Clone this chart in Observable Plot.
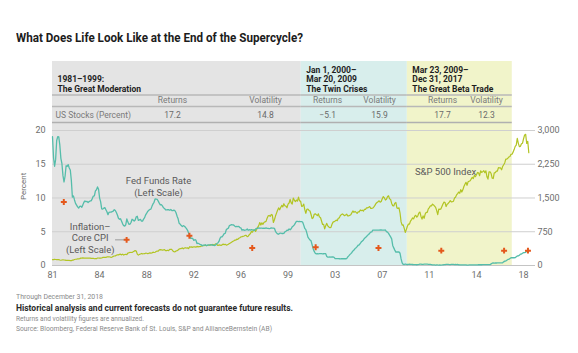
<!DOCTYPE html>
<html><head><meta charset="utf-8">
<script src="https://cdn.jsdelivr.net/npm/d3@7"></script>
<script src="https://cdn.jsdelivr.net/npm/@observablehq/plot@0.6"></script>
<style>
body{margin:0;background:#fff;font-family:Roboto,"Noto Sans",sans-serif;}
#wrap{width:578px;height:353px;position:relative;overflow:hidden}
#title{height:55px;box-sizing:border-box;padding:30px 0 0 16px;font-weight:700;font-size:13px;line-height:16px;color:#1c1c1c;white-space:nowrap}
.fit{display:inline-block;transform-origin:0 50%;white-space:nowrap}
#chart{height:230px}
#chart svg{display:block}
#foot{padding:7px 0 0 16px}
#foot div{white-space:nowrap}
#f1{font-size:8px;line-height:10px;color:#8a8a8a}
#f2{font-size:9.5px;line-height:12px;color:#2a2a2a;font-weight:700}
#f3{font-size:7.5px;line-height:10px;color:#8a8a8a}
#f4{font-size:7.5px;line-height:10px;color:#8a8a8a}
</style></head>
<body>
<div id="wrap">
  <div id="title"><span class="fit" data-w="287">What Does Life Look Like at the End of the Supercycle?</span></div>
  <div id="chart"></div>
  <div id="foot">
    <div id="f1"><span class="fit" data-w="87">Through December 31, 2018</span></div>
    <div id="f2"><span class="fit" data-w="277">Historical analysis and current forecasts do not guarantee future results.</span></div>
    <div id="f3"><span class="fit" data-w="128">Returns and volatility figures are annualized.</span></div>
    <div id="f4"><span class="fit" data-w="256">Source: Bloomberg, Federal Reserve Bank of St. Louis, S&amp;P and AllianceBernstein (AB)</span></div>
  </div>
</div>
<script>
// ---------------- DATA ----------------
// Fed funds rate, monthly, Jan 1981 – Dec 2018 (percent, left scale)
const fedFunds = [
19.08,15.93,14.7,15.72,18.52,19.1,19.04,17.82,15.87,15.08,13.31,12.37,
13.22,14.78,14.68,14.94,14.45,14.15,12.59,10.12,10.31,9.71,9.2,8.95,
8.68,8.51,8.77,8.8,8.63,8.98,9.37,9.56,9.45,9.48,9.34,9.47,
9.56,9.59,9.91,10.29,10.32,11.06,11.23,11.64,11.3,9.99,9.43,8.38,
8.35,8.5,8.58,8.27,7.97,7.53,7.88,7.9,7.92,7.99,8.05,8.27,
8.14,7.86,7.48,6.99,6.85,6.92,6.56,6.17,5.89,5.85,6.04,6.91,
6.43,6.1,6.13,6.37,6.85,6.73,6.58,6.73,7.22,7.29,6.69,6.77,
6.83,6.58,6.58,6.87,7.09,7.51,7.75,8.01,8.19,8.3,8.35,8.76,
9.12,9.36,9.85,9.84,9.81,9.53,9.24,8.99,9.02,8.84,8.55,8.45,
8.23,8.24,8.28,8.26,8.18,8.29,8.15,8.13,8.2,8.11,7.81,7.31,
6.91,6.25,6.12,5.91,5.78,5.9,5.82,5.66,5.45,5.21,4.81,4.43,
4.03,4.06,3.98,3.73,3.82,3.76,3.25,3.3,3.22,3.1,3.09,2.92,
3.02,3.03,3.07,2.96,3.0,3.04,3.06,3.03,3.09,2.99,3.02,2.96,
3.05,3.25,3.34,3.56,4.01,4.25,4.26,4.47,4.73,4.76,5.29,5.45,
5.53,5.92,5.98,6.05,6.01,6.0,5.85,5.74,5.8,5.76,5.8,5.6,
5.56,5.22,5.31,5.22,5.24,5.27,5.4,5.22,5.3,5.24,5.31,5.29,
5.25,5.19,5.39,5.51,5.5,5.56,5.52,5.54,5.54,5.5,5.52,5.5,
5.56,5.51,5.49,5.45,5.49,5.56,5.54,5.55,5.51,5.07,4.83,4.68,
4.63,4.76,4.81,4.74,4.74,4.76,4.99,5.07,5.22,5.2,5.42,5.3,
5.45,5.73,5.85,6.02,6.27,6.53,6.54,6.5,6.52,6.51,6.51,6.4,
5.98,5.49,5.31,4.8,4.21,3.97,3.77,3.65,3.07,2.49,2.09,1.82,
1.73,1.74,1.73,1.75,1.75,1.75,1.73,1.74,1.75,1.75,1.34,1.24,
1.24,1.26,1.25,1.26,1.26,1.22,1.01,1.03,1.01,1.01,1.0,0.98,
1.0,1.01,1.0,1.0,1.0,1.03,1.26,1.43,1.61,1.76,1.93,2.16,
2.28,2.5,2.63,2.79,3.0,3.04,3.26,3.5,3.62,3.78,4.0,4.16,
4.29,4.49,4.59,4.79,4.94,4.99,5.24,5.25,5.25,5.25,5.25,5.24,
5.25,5.26,5.26,5.25,5.25,5.25,5.26,5.02,4.94,4.76,4.49,4.24,
3.94,2.98,2.61,2.28,1.98,2.0,2.01,2.0,1.81,0.97,0.39,0.16,
0.15,0.22,0.18,0.15,0.18,0.21,0.16,0.16,0.15,0.12,0.12,0.12,
0.11,0.13,0.16,0.2,0.2,0.18,0.18,0.19,0.19,0.19,0.19,0.18,
0.17,0.16,0.14,0.1,0.09,0.09,0.07,0.1,0.08,0.07,0.08,0.07,
0.08,0.1,0.13,0.14,0.16,0.16,0.16,0.13,0.14,0.16,0.16,0.16,
0.14,0.15,0.14,0.15,0.11,0.09,0.09,0.08,0.08,0.09,0.08,0.09,
0.07,0.07,0.08,0.09,0.09,0.1,0.09,0.09,0.09,0.09,0.09,0.12,
0.11,0.11,0.11,0.12,0.12,0.13,0.13,0.14,0.14,0.12,0.12,0.24,
0.34,0.38,0.36,0.37,0.37,0.38,0.39,0.4,0.4,0.4,0.41,0.54,
0.65,0.66,0.79,0.9,0.91,1.04,1.15,1.16,1.15,1.15,1.16,1.3,
1.41,1.42,1.51,1.69,1.7,1.82,1.91,1.91,1.95,2.19,2.2,2.27
];
// S&P 500 index, monthly close, Jan 1981 – Dec 2018 (right scale)
const sp500 = [
129.55,131.27,136.0,132.81,132.59,131.21,130.92,122.79,116.18,121.89,126.35,122.55,
120.4,113.11,111.96,116.44,111.88,109.61,107.09,119.51,120.42,133.71,138.54,140.64,
145.3,148.06,152.96,164.42,162.39,168.11,162.56,164.4,166.07,163.55,166.4,164.93,
163.41,157.06,159.18,160.05,150.55,153.18,150.66,166.68,166.1,166.09,163.58,167.24,
179.63,181.18,180.66,179.83,189.55,191.85,190.92,188.63,182.08,189.82,202.17,211.28,
211.78,226.92,238.9,235.52,247.35,250.84,236.12,252.93,231.32,243.98,249.22,242.17,
274.08,284.2,291.7,288.36,290.1,304.0,318.66,329.8,321.83,251.79,230.3,247.08,
257.07,267.82,258.89,261.33,262.16,273.5,272.02,261.52,271.91,278.97,273.7,277.72,
297.47,288.86,294.87,309.64,320.52,317.98,346.08,351.45,349.15,340.36,345.99,353.4,
329.08,331.89,339.94,330.8,361.23,358.02,356.15,322.56,306.05,304.0,322.22,330.22,
343.93,367.07,375.22,375.35,389.83,371.16,387.81,395.43,387.86,392.45,375.22,417.09,
408.79,412.7,403.69,414.95,415.35,408.14,424.21,414.03,417.8,418.68,431.35,435.71,
438.78,443.38,451.67,440.19,450.19,450.53,448.13,463.56,458.93,467.83,461.79,466.45,
481.61,467.14,445.77,450.91,456.5,444.27,458.26,475.49,462.69,472.35,453.69,459.27,
470.42,487.39,500.71,514.71,533.4,544.75,562.06,561.88,584.41,581.5,605.37,615.93,
636.02,640.43,645.5,654.17,669.12,670.63,639.95,651.99,687.33,705.27,757.02,740.74,
786.16,790.82,757.12,801.34,848.28,885.14,954.29,899.47,947.28,914.62,955.4,970.43,
980.28,1049.34,1101.75,1111.75,1090.82,1133.84,1120.67,957.28,1017.01,1098.67,1163.63,1229.23,
1279.64,1238.33,1286.37,1335.18,1301.84,1372.71,1328.72,1320.41,1282.71,1362.93,1388.91,1469.25,
1394.46,1366.42,1498.58,1452.43,1420.6,1454.6,1430.83,1517.68,1436.51,1429.4,1314.95,1320.28,
1366.01,1239.94,1160.33,1249.46,1255.82,1224.42,1211.23,1133.58,1040.94,1059.78,1139.45,1148.08,
1130.2,1106.73,1147.39,1076.92,1067.14,989.82,911.62,916.07,815.28,885.76,936.31,879.82,
855.7,841.15,848.18,916.92,963.59,974.5,990.31,1008.01,995.97,1050.71,1058.2,1111.92,
1131.13,1144.94,1126.21,1107.3,1120.68,1140.84,1101.72,1104.24,1114.58,1130.2,1173.82,1211.92,
1181.27,1203.6,1180.59,1156.85,1191.5,1191.33,1234.18,1220.33,1228.81,1207.01,1249.48,1248.29,
1280.08,1280.66,1294.83,1310.61,1270.09,1270.2,1276.66,1303.82,1335.85,1377.94,1400.63,1418.3,
1438.24,1406.82,1420.86,1482.37,1530.62,1503.35,1455.27,1473.99,1526.75,1549.38,1481.14,1468.36,
1378.55,1330.63,1322.7,1385.59,1400.38,1280.0,1267.38,1282.83,1166.36,968.75,896.24,903.25,
825.88,735.09,797.87,872.81,919.14,919.32,987.48,1020.62,1057.08,1036.19,1095.63,1115.1,
1073.87,1104.49,1169.43,1186.69,1089.41,1030.71,1101.6,1049.33,1141.2,1183.26,1180.55,1257.64,
1286.12,1327.22,1325.83,1363.61,1345.2,1320.64,1292.28,1218.89,1131.42,1253.3,1246.96,1257.6,
1312.41,1365.68,1408.47,1397.91,1310.33,1362.16,1379.32,1406.58,1440.67,1412.16,1416.18,1426.19,
1498.11,1514.68,1569.19,1597.57,1630.74,1606.28,1685.73,1632.97,1681.55,1756.54,1805.81,1848.36,
1782.59,1859.45,1872.34,1883.95,1923.57,1960.23,1930.67,2003.37,1972.29,2018.05,2067.56,2058.9,
1994.99,2104.5,2067.89,2085.51,2107.39,2063.11,2103.84,1972.18,1920.03,2079.36,2080.41,2043.94,
1940.24,1932.23,2059.74,2065.3,2096.95,2098.86,2173.6,2170.95,2168.27,2126.15,2198.81,2238.83,
2278.87,2363.64,2362.72,2384.2,2411.8,2423.41,2470.3,2471.65,2519.36,2575.26,2647.58,2673.61,
2823.81,2713.83,2640.87,2648.05,2705.27,2718.37,2816.29,2901.52,2913.98,2711.74,2760.17,2506.85
];
// Inflation – core CPI markers (decimal year, percent)
const cpiYears  = [1981.9, 1986.9, 1991.9, 1996.9, 2001.95, 2006.95, 2011.95, 2016.95, 2018.85];
const cpiValues = [9.4, 3.8, 4.4, 2.6, 2.7, 2.6, 2.2, 2.2, 2.2];

// Periods (table)
const periodHeaders = ["1981–1999:\nThe Great Moderation", "Jan 1, 2000–\nMar 20, 2009\nThe Twin Crises", "Mar 23, 2009–\nDec 31, 2017\nThe Great Beta Trade"];
const periodStart = [1981, 2000.8, 2009.25];
const periodEnd   = [2000.8, 2009.25, 2017.6];
const periodFill  = ["#e4e4e4", "#d8eeec", "#f1f4ca"];
const returnsPct    = [17.2, -5.1, 17.7];
const volatilityPct = [14.8, 15.9, 12.3];
const columnHeaders = ["Returns", "Volatility"];
const rowLabel = "US Stocks (Percent)";

// Axis ticks
const yTicks = [0, 5, 10, 15, 20];
const xTickLabels = ["81","84","88","92","96","99","03","07","11","14","18"];

// ---------------- LAYOUT ----------------
const spxFactor = 150;               // 3,000 on right scale = 20 on left
const yTop = 30.22;                  // top of band area (left-scale units)
const xStart = 1981, xEnd = 2019.45;
const xTicks = xTickLabels.map((_, i) => 1981 + i * 3.75);
const colPos = [[1990.55, 1997.96], [2002.9, 2007.04], [2012.05, 2015.55]];

const bands = periodHeaders.map((h, i) => ({header: h, start: periodStart[i], end: periodEnd[i], fill: periodFill[i]}));
const fedData = fedFunds.map((v, i) => ({t: 1981 + i / 12, v}));
const spxData = sp500.map((v, i) => ({t: 1981 + i / 12, v: v / spxFactor}));
const cpiData = cpiYears.map((t, i) => ({t, v: cpiValues[i]}));
const fmtVal = d3.format(".1f");
const colHeadCells = [], valueCells = [];
bands.forEach((b, i) => {
  colHeadCells.push({x: colPos[i][0], text: columnHeaders[0]}, {x: colPos[i][1], text: columnHeaders[1]});
  valueCells.push({x: colPos[i][0], text: fmtVal(returnsPct[i])}, {x: colPos[i][1], text: fmtVal(volatilityPct[i])});
});
const annotations = [
  {x: 1989.44, y: 11.73, text: "Fed Funds Rate\n(Left Scale)"},
  {x: 1984.0, y: 4.1, text: "Inflation–\nCore CPI\n(Left Scale)"},
  {x: 2012.29, y: 13.97, text: "S&P 500 Index"}
];
const leader = [{x1: 1986.02, x2: 1986.75, y: 3.8}];

const chart = Plot.plot({
  width: 578, height: 230,
  marginTop: 6, marginBottom: 20, marginLeft: 52, marginRight: 43,
  x: {domain: [xStart, xEnd]},
  y: {domain: [0, yTop]},
  style: {fontFamily: "Roboto, sans-serif", fontSize: "9px", color: "#6e6e6e", background: "transparent"},
  marks: [
    Plot.rect(bands, {x1: "start", x2: "end", fill: "fill"}),
    Plot.gridY(yTicks, {stroke: "#cfcfcf", strokeOpacity: 1}),
    Plot.ruleY([0], {stroke: "#c4c4c4"}),
    Plot.ruleY(bands, {y: () => yTop, x1: "start", x2: "end", dy: 33.5, stroke: "#b8b8b8", strokeWidth: 1.3}),
    Plot.ruleY(bands, {y: () => yTop, x1: "start", x2: "end", dy: 45, stroke: "#b8b8b8", strokeWidth: 1.3}),
    Plot.ruleY(bands, {y: () => yTop, x1: "start", x2: "end", dy: 61, stroke: "#b0b0b0", strokeWidth: 1.5}),
    Plot.text(bands, {x: "start", y: () => yTop, text: "header", textAnchor: "start", lineAnchor: "bottom", dx: 5, dy: 30.5, fontWeight: 700, fill: "#1e1e1e", fontSize: 8.5, lineHeight: 1.12}),
    Plot.text(colHeadCells, {x: "x", y: () => yTop, text: "text", lineAnchor: "middle", dy: 39, fill: "#7a7a7a", fontSize: 8.5}),
    Plot.text(valueCells, {x: "x", y: () => yTop, text: "text", lineAnchor: "middle", dy: 54, fill: "#6a6a6a", fontSize: 8.5}),
    Plot.text([rowLabel], {x: () => xStart, y: () => yTop, text: d => d, textAnchor: "start", lineAnchor: "middle", dx: 3, dy: 54, fill: "#7a7a7a", fontSize: 8.5}),
    Plot.axisY(yTicks, {anchor: "left", tickSize: 0, tickPadding: 7, label: null}),
    Plot.axisY(yTicks, {anchor: "right", tickSize: 0, tickPadding: 2, label: null, tickFormat: d => d3.format(",")(d * spxFactor)}),
    Plot.axisX(xTicks, {tickSize: 0, tickPadding: 6, label: null, tickFormat: d => xTickLabels[xTicks.findIndex(t => Math.abs(t - d) < 1e-6)]}),
    Plot.text(["Percent"], {y: () => 9.7, frameAnchor: "left", dx: -29, rotate: -90, fontSize: 8, fill: "#6e6e6e", text: d => d}),
    Plot.line(spxData, {x: "t", y: "v", stroke: "#b2c423", strokeWidth: 1.2}),
    Plot.line(fedData, {x: "t", y: "v", stroke: "#55bdaa", strokeWidth: 1.3}),
    Plot.dot(cpiData, {x: "t", y: "v", symbol: "cross", r: 2.5, fill: "#e4581c", stroke: null}),
    Plot.text(annotations, {x: "x", y: "y", text: "text", fill: "#5a5a5a", fontSize: 9.5, lineHeight: 1.2}),
    Plot.ruleY(leader, {x1: "x1", x2: "x2", y: "y", stroke: "#888", strokeWidth: 0.8})
  ]
});
document.getElementById("chart").appendChild(chart);

document.querySelectorAll(".fit").forEach(el => {
  const w = el.getBoundingClientRect().width;
  const target = +el.dataset.w;
  if (w > 0) el.style.transform = `scaleX(${target / w})`;
});
</script>
</body></html>
